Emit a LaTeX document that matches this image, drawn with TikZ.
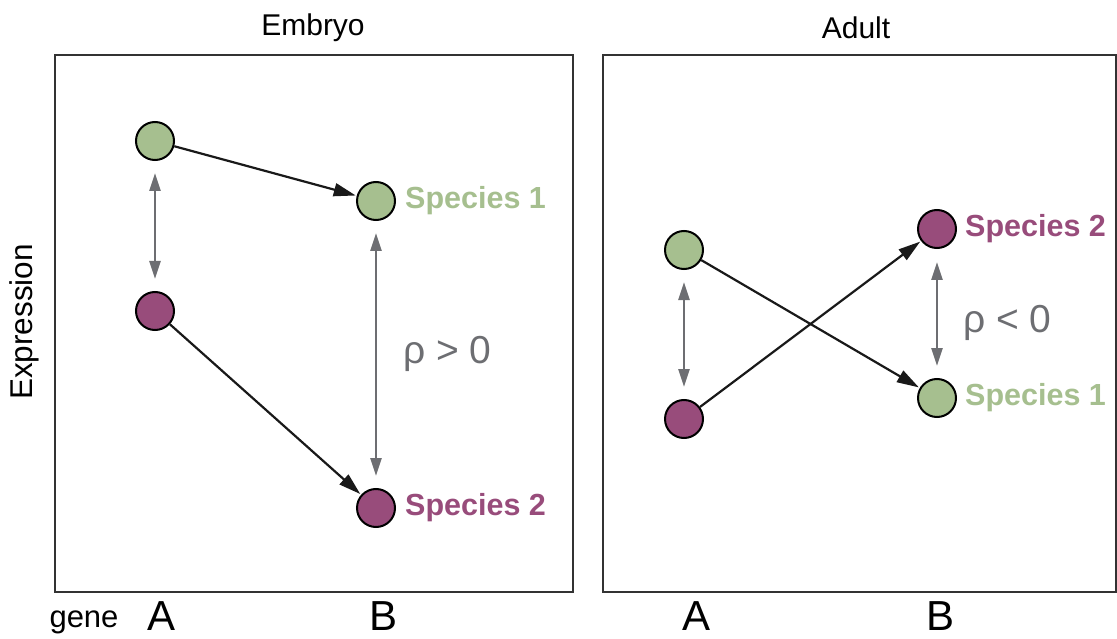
\documentclass[tikz,border=0pt]{standalone}
\usepackage{fontspec}
\setmainfont{Liberation Sans}
\usetikzlibrary{arrows.meta}
\definecolor{sgreen}{HTML}{A6BF8F}
\definecolor{spurple}{HTML}{984C7B}
\definecolor{agray}{HTML}{6D6E72}
\definecolor{boxgray}{HTML}{333333}
\begin{document}
\begin{tikzpicture}[x=1pt,y=-1pt,
  dot/.style={circle,draw=black,line width=2pt,minimum size=38pt,inner sep=0pt},
  gdot/.style={dot,fill=sgreen},
  pdot/.style={dot,fill=spurple},
  panel/.style={draw=boxgray,line width=2pt},
  conn/.style={draw=black!90,line width=2.2pt,-{Triangle[length=22pt,width=13pt]},shorten >=1pt},
  rel/.style={draw=agray,line width=2.4pt,{Triangle[length=18pt,width=11pt]}-{Triangle[length=18pt,width=11pt]}},
  title/.style={font=\fontsize{30}{34}\selectfont,inner sep=0pt},
  spl/.style={font=\fontsize{30.5}{34}\selectfont\bfseries,anchor=west,inner sep=0pt},
  rho/.style={font=\fontsize{39}{43}\selectfont,text=agray,anchor=west,inner sep=0pt},
  axl/.style={font=\fontsize{42}{46}\selectfont,inner sep=0pt}
]
\useasboundingbox (0,0) rectangle (1117,639);
% panels
\draw[panel] (55,55) rectangle (573,592);
\draw[panel] (603,55) rectangle (1116,592);
\node[title] (t1) at (313,28) {Embryo};
\node[title] (t2) at (856,28) {Adult};
\node[title,font=\fontsize{31.5}{34}\selectfont,rotate=90] (ylab) at (24,322) {Expression};
\node[title,font=\fontsize{31}{34}\selectfont] (gene) at (84,622) {gene};
\node[axl] (xa1) at (162,616) {A};
\node[axl] (xb1) at (384,616) {B};
\node[axl] (xa2) at (697,616) {A};
\node[axl] (xb2) at (940,616) {B};
% embryo
\node[gdot] (eAg) at (155,141) {};
\node[pdot] (eAp) at (155,311) {};
\node[gdot] (eBg) at (376,201) {};
\node[pdot] (eBp) at (376,508) {};
\draw[conn] (eAg) -- (eBg);
\draw[conn] (eAp) -- (eBp);
\draw[rel] ([yshift=-12pt]eAg.south) -- ([yshift=12pt]eAp.north);
\draw[rel] ([yshift=-12pt]eBg.south) -- ([yshift=12pt]eBp.north);
\node[spl,text=sgreen] (l1) at (405,201) {Species 1};
\node[spl,text=spurple] (l2) at (405,508) {Species 2};
\node[rho] (r1) at (403,354) {ρ > 0};
% adult
\node[gdot] (aAg) at (684,250) {};
\node[pdot] (aAp) at (684,419) {};
\node[pdot] (aBp) at (937,229) {};
\node[gdot] (aBg) at (937,398) {};
\draw[conn] (aAg) -- (aBg);
\draw[conn] (aAp) -- (aBp);
\draw[rel] ([yshift=-12pt]aAg.south) -- ([yshift=12pt]aAp.north);
\draw[rel] ([yshift=-13pt]aBp.south) -- ([yshift=12pt]aBg.north);
\node[spl,text=spurple] (l3) at (965,229) {Species 2};
\node[spl,text=sgreen] (l4) at (965,398) {Species 1};
\node[rho] (r2) at (963,323) {ρ < 0};
\end{tikzpicture}
\end{document}
